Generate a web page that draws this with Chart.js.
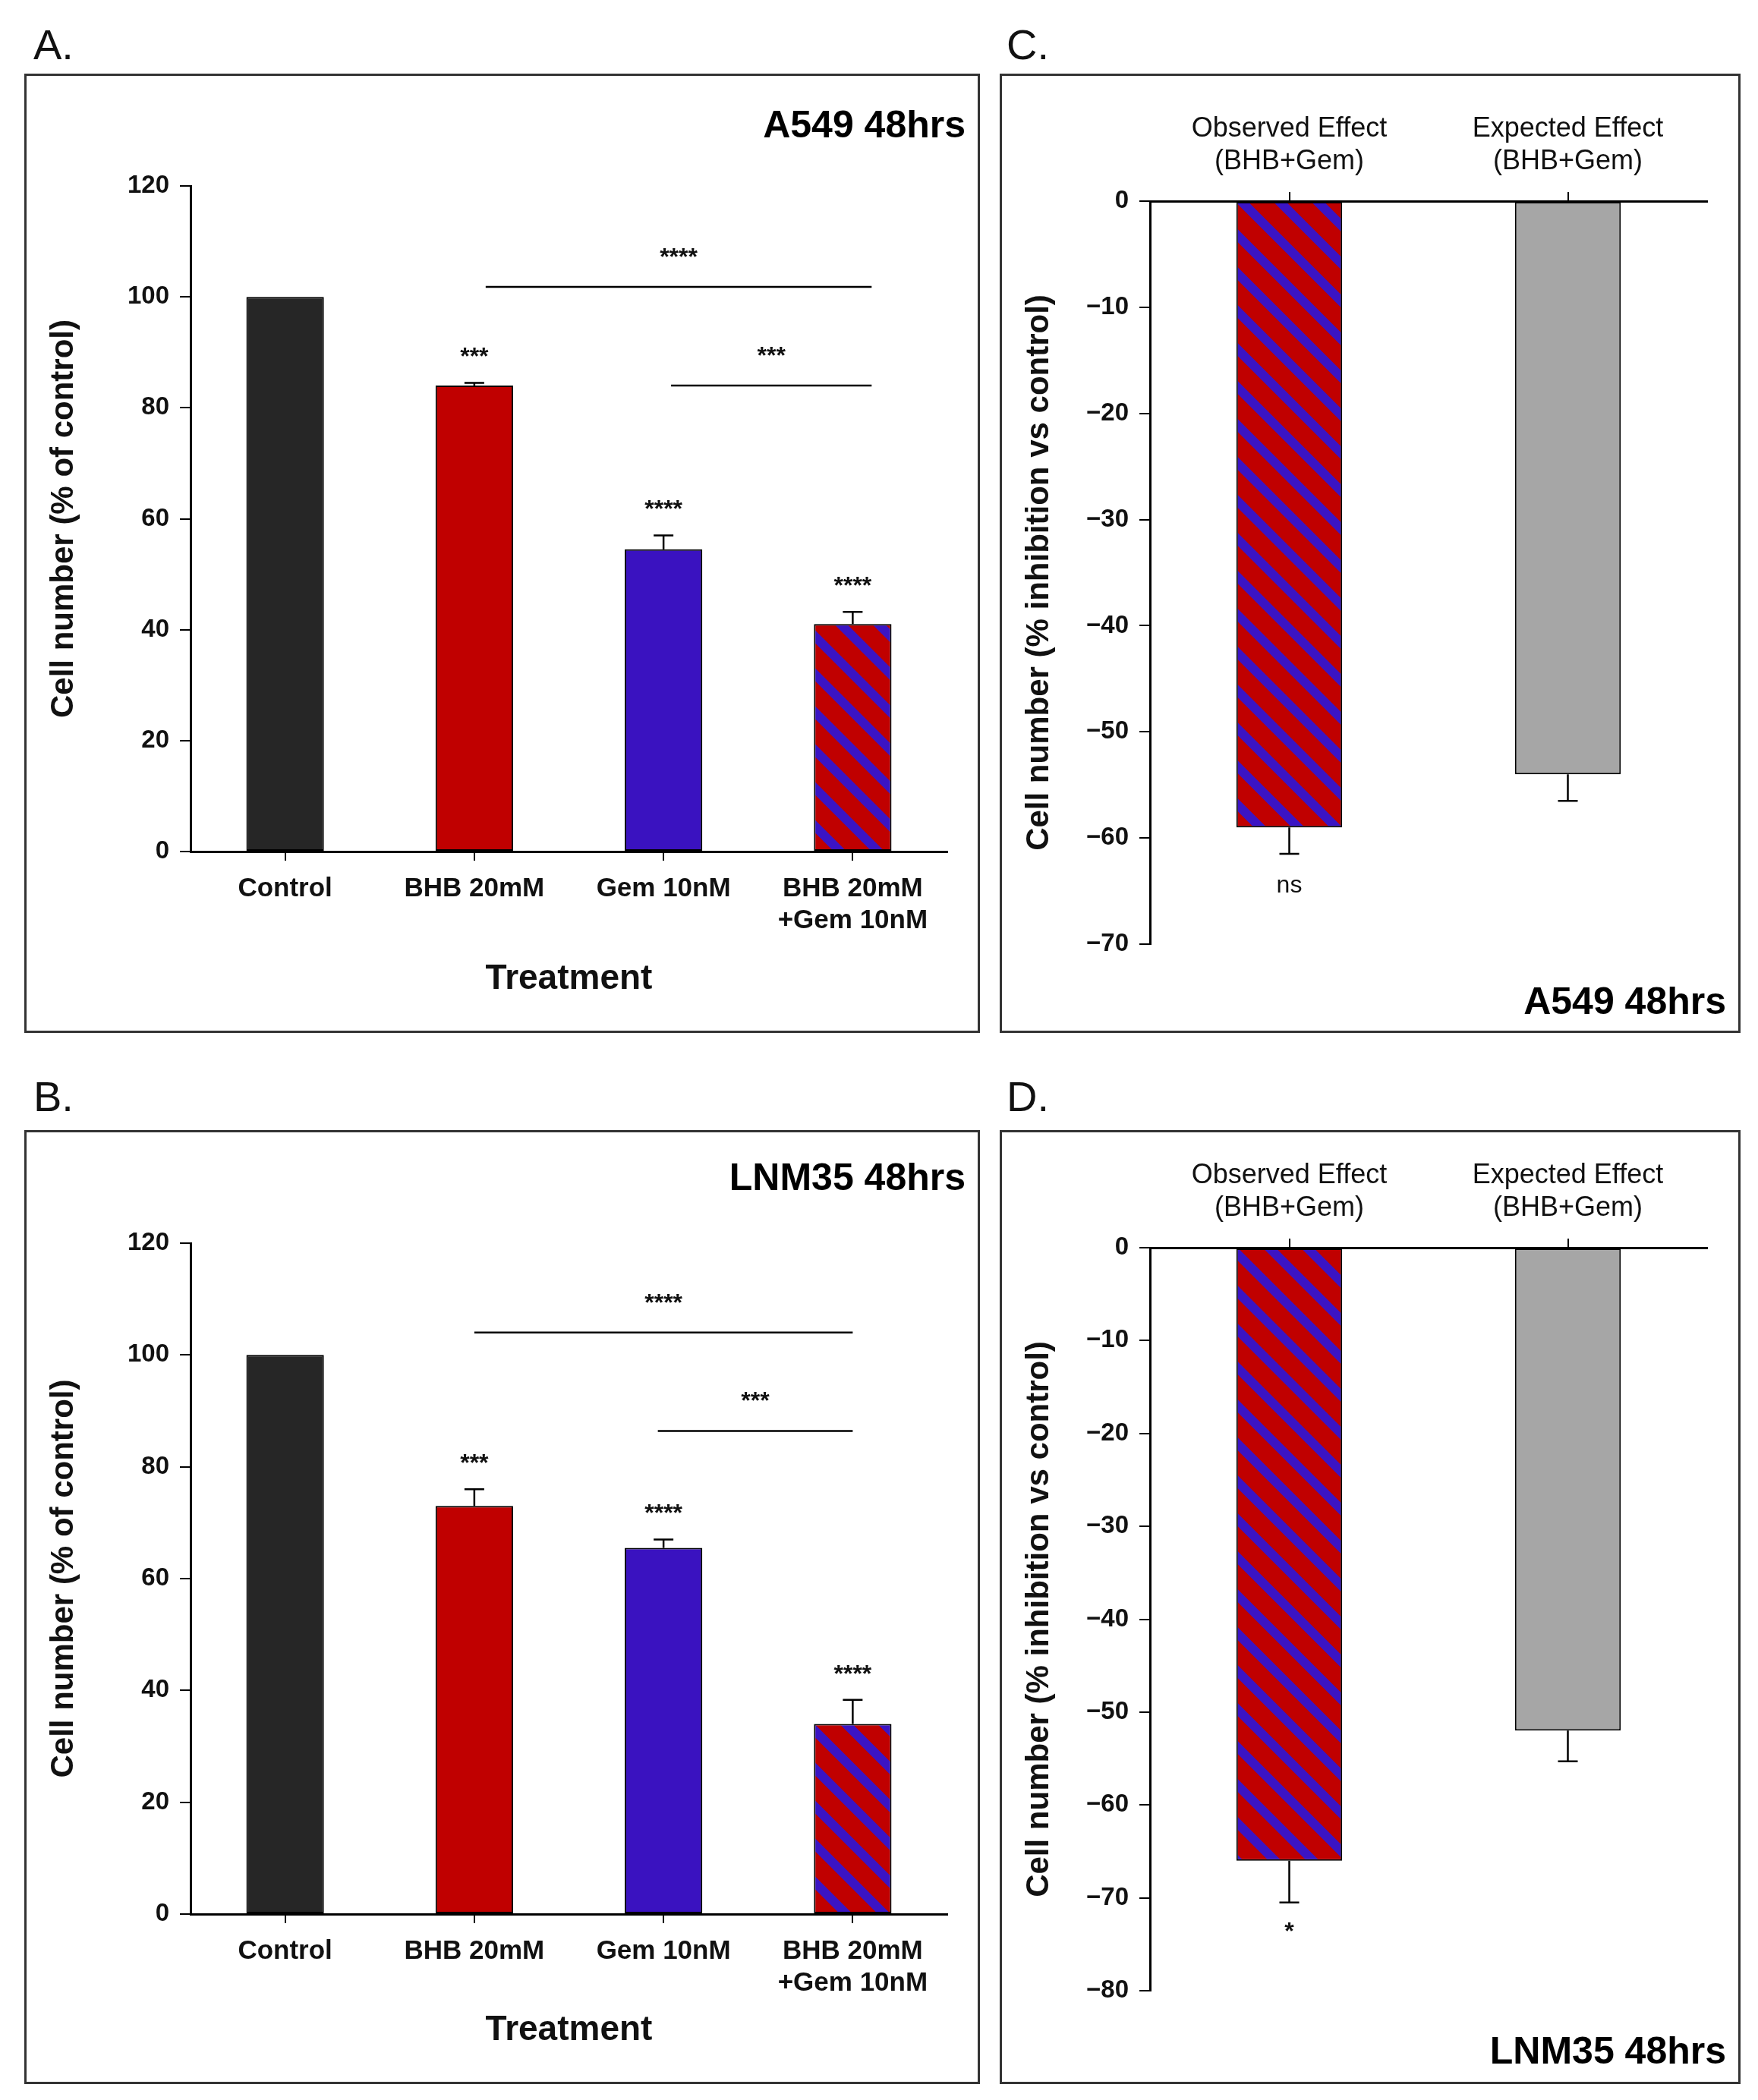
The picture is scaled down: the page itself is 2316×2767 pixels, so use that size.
<!DOCTYPE html>
<html>
<head>
<meta charset="utf-8">
<script src="https://cdn.jsdelivr.net/npm/chart.js@4"></script>
<style>
body { margin: 0; background: #fff; width: 2316px; height: 2767px; position: relative; font-family: "Liberation Sans", Arial, sans-serif; }
.box { position: absolute; border: 3px solid #333; box-sizing: border-box; }
.box canvas { position: absolute; left: 0; top: 0; }
.letter { position: absolute; font-size: 56px; color: #111; }
</style>
</head>
<body>
<div class="letter" style="left:44px;top:26px">A.</div>
<div class="letter" style="left:1326px;top:26px">C.</div>
<div class="letter" style="left:44px;top:1412px">B.</div>
<div class="letter" style="left:1326px;top:1412px">D.</div>
<div class="box" style="left:32px;top:97px;width:1259px;height:1264px"><canvas id="chartA" width="1253" height="1258"></canvas></div>
<div class="box" style="left:1317px;top:97px;width:976px;height:1264px"><canvas id="chartC" width="970" height="1258"></canvas></div>
<div class="box" style="left:32px;top:1489px;width:1259px;height:1257px"><canvas id="chartB" width="1253" height="1251"></canvas></div>
<div class="box" style="left:1317px;top:1489px;width:976px;height:1257px"><canvas id="chartD" width="970" height="1251"></canvas></div>
<script>
var treatments = ["Control", "BHB 20mM", "Gem 10nM", ["BHB 20mM", "+Gem 10nM"]];
var effects = [["Observed Effect", "(BHB+Gem)"], ["Expected Effect", "(BHB+Gem)"]];

var a549Values = [100, 84, 54.5, 41];
var a549Errors = [0, 0.5, 2.5, 2.2];
var a549Stars = ["", "***", "****", "****"];
var a549Sig = [{ from: 1.06, to: 3.1, y: 101.8, label: "****" }, { from: 2.04, to: 3.1, y: 84, label: "***" }];

var lnmValues = [100, 73, 65.5, 34];
var lnmErrors = [0, 3, 1.5, 4.3];
var lnmStars = ["", "***", "****", "****"];
var lnmSig = [{ from: 1.0, to: 3.0, y: 104, label: "****" }, { from: 1.97, to: 3.0, y: 86.4, label: "***" }];

var a549Effect = [-59, -54];
var a549EffectErr = [2.5, 2.5];
var a549EffectStars = ["ns", ""];

var lnmEffect = [-66, -52];
var lnmEffectErr = [4.5, 3.3];
var lnmEffectStars = ["*", ""];

function stripePattern() {
	var s = 50;
	var c = document.createElement("canvas");
	c.width = s; c.height = s;
	var g = c.getContext("2d");
	g.fillStyle = "#c00000";
	g.fillRect(0, 0, s, s);
	g.strokeStyle = "#3b14c4";
	g.lineWidth = 12;
	[-s, 0, s].forEach(function (o) {
		g.beginPath();
		g.moveTo(o - 5, -5);
		g.lineTo(o + s + 5, s + 5);
		g.stroke();
	});
	return g.createPattern(c, "repeat");
}
var stripes = stripePattern();

var overlay = {
	id: "overlay",
	afterDatasetsDraw: function (chart, args, o) {
		var ctx = chart.ctx, x = chart.scales.x, y = chart.scales.y;
		ctx.save();
		ctx.strokeStyle = "#000";
		ctx.fillStyle = "#111";
		ctx.lineWidth = 2.5;
		ctx.textAlign = "center";
		ctx.textBaseline = "middle";
		o.values.forEach(function (v, i) {
			var e = o.errors[i];
			var dir = v >= 0 ? 1 : -1;
			var cx = x.getPixelForValue(i);
			if (e) {
				var y0 = y.getPixelForValue(v), y1 = y.getPixelForValue(v + dir * e);
				ctx.beginPath();
				ctx.moveTo(cx, y0); ctx.lineTo(cx, y1);
				ctx.moveTo(cx - 13, y1); ctx.lineTo(cx + 13, y1);
				ctx.stroke();
			}
			if (o.stars[i]) {
				ctx.font = (o.stars[i] == "ns" ? "" : "bold ") + "32px 'Liberation Sans'";
				ctx.fillText(o.stars[i], cx, y.getPixelForValue(v + dir * (e + o.starGap)));
			}
		});
		ctx.font = "bold 32px 'Liberation Sans'";
		(o.sig || []).forEach(function (s) {
			var py = y.getPixelForValue(s.y);
			ctx.beginPath();
			ctx.moveTo(x.getPixelForValue(s.from), py);
			ctx.lineTo(x.getPixelForValue(s.to), py);
			ctx.stroke();
			ctx.fillText(s.label, x.getPixelForValue((s.from + s.to) / 2), py - 38);
		});
		ctx.font = "bold 50px 'Liberation Sans'";
		ctx.textAlign = "right";
		ctx.fillStyle = "#000";
		ctx.fillText(o.title, chart.width - 16, o.titleY);
		ctx.restore();
	}
};

function makeChart(id, cfg) {
	var tickFont = { family: "Liberation Sans", size: 33, weight: "bold" };
	return new Chart(document.getElementById(id), {
		type: "bar",
		data: {
			labels: cfg.labels,
			datasets: [{
				data: cfg.values,
				backgroundColor: cfg.colors,
				borderColor: "#000",
				borderWidth: 2,
				borderSkipped: false,
				barPercentage: cfg.barPct,
				categoryPercentage: 1,
			}],
		},
		options: {
			responsive: false,
			animation: false,
			devicePixelRatio: 1,
			layout: { padding: cfg.padding },
			plugins: {
				legend: { display: false },
				tooltip: { enabled: false },
				overlay: {
					values: cfg.values, errors: cfg.errors, stars: cfg.stars, sig: cfg.sig,
					starGap: cfg.starGap, title: cfg.title, titleY: cfg.titleY,
				},
			},
			scales: {
				x: {
					position: cfg.xPos,
					afterFit: function (s) { s.height = cfg.xHeight; },
					grid: { display: true, offset: false, drawOnChartArea: false, drawTicks: true, tickLength: 12, color: "#000", lineWidth: 2 },
					border: { color: "#000", width: 3 },
					ticks: { color: "#111", font: cfg.xFont || { family: "Liberation Sans", size: 35, weight: "bold" }, padding: cfg.xPad },
					title: cfg.xTitle ? { display: true, text: cfg.xTitle, color: "#111", font: { family: "Liberation Sans", size: 46, weight: "bold" }, padding: { top: 20, bottom: 40 } } : { display: false },
				},
				y: {
					min: cfg.min, max: cfg.max,
					afterFit: function (s) { s.width = cfg.yWidth; },
					grid: { display: true, drawOnChartArea: false, drawTicks: true, tickLength: 14, color: "#000", lineWidth: 2 },
					border: { color: "#000", width: 3 },
					ticks: {
						stepSize: 10 * cfg.step, color: "#111", font: tickFont, padding: 14,
						callback: function (v) { return String(v).replace("-", "\u2212"); },
					},
					title: { display: true, text: cfg.yTitle, color: "#111", font: { family: "Liberation Sans", size: 42, weight: "bold" }, padding: { bottom: 0, top: 24 } },
				},
			},
		},
		plugins: [overlay],
	});
}

var treatColors = ["#262626", "#c00000", "#3a12c0", stripes];
var effectColors = [stripes, "#a6a6a6"];

makeChart("chartA", {
	labels: treatments, values: a549Values, errors: a549Errors, stars: a549Stars, sig: a549Sig,
	colors: treatColors, barPct: 0.41, min: 0, max: 120, step: 2,
	padding: { top: 145, right: 40, left: 0, bottom: 0 }, yWidth: 216, xHeight: 236, xPos: "bottom", xPad: 16,
	xTitle: "Treatment", yTitle: "Cell number (% of control)", starGap: 4.5, title: "A549 48hrs", titleY: 67,
});
makeChart("chartB", {
	labels: treatments, values: lnmValues, errors: lnmErrors, stars: lnmStars, sig: lnmSig,
	colors: treatColors, barPct: 0.41, min: 0, max: 120, step: 2,
	padding: { top: 146, right: 40, left: 0, bottom: 0 }, yWidth: 216, xHeight: 221, xPos: "bottom", xPad: 16,
	xTitle: "Treatment", yTitle: "Cell number (% of control)", starGap: 4.5, title: "LNM35 48hrs", titleY: 62,
});
makeChart("chartC", {
	labels: effects, values: a549Effect, errors: a549EffectErr, stars: a549EffectStars, sig: [],
	colors: effectColors, barPct: 0.38, min: -70, max: 0, step: 1,
	padding: { top: 0, right: 41, left: 0, bottom: 114 }, yWidth: 195, xHeight: 165, xPos: "top", xPad: 18,
	xFont: { family: "Liberation Sans", size: 36 },
	yTitle: "Cell number (% inhibition vs control)", starGap: 3, title: "A549 48hrs", titleY: 1222,
});
makeChart("chartD", {
	labels: effects, values: lnmEffect, errors: lnmEffectErr, stars: lnmEffectStars, sig: [],
	colors: effectColors, barPct: 0.38, min: -80, max: 0, step: 1,
	padding: { top: 0, right: 41, left: 0, bottom: 120 }, yWidth: 195, xHeight: 152, xPos: "top", xPad: 18,
	xFont: { family: "Liberation Sans", size: 36 },
	yTitle: "Cell number (% inhibition vs control)", starGap: 3.2, title: "LNM35 48hrs", titleY: 1213,
});
</script>
</body>
</html>
